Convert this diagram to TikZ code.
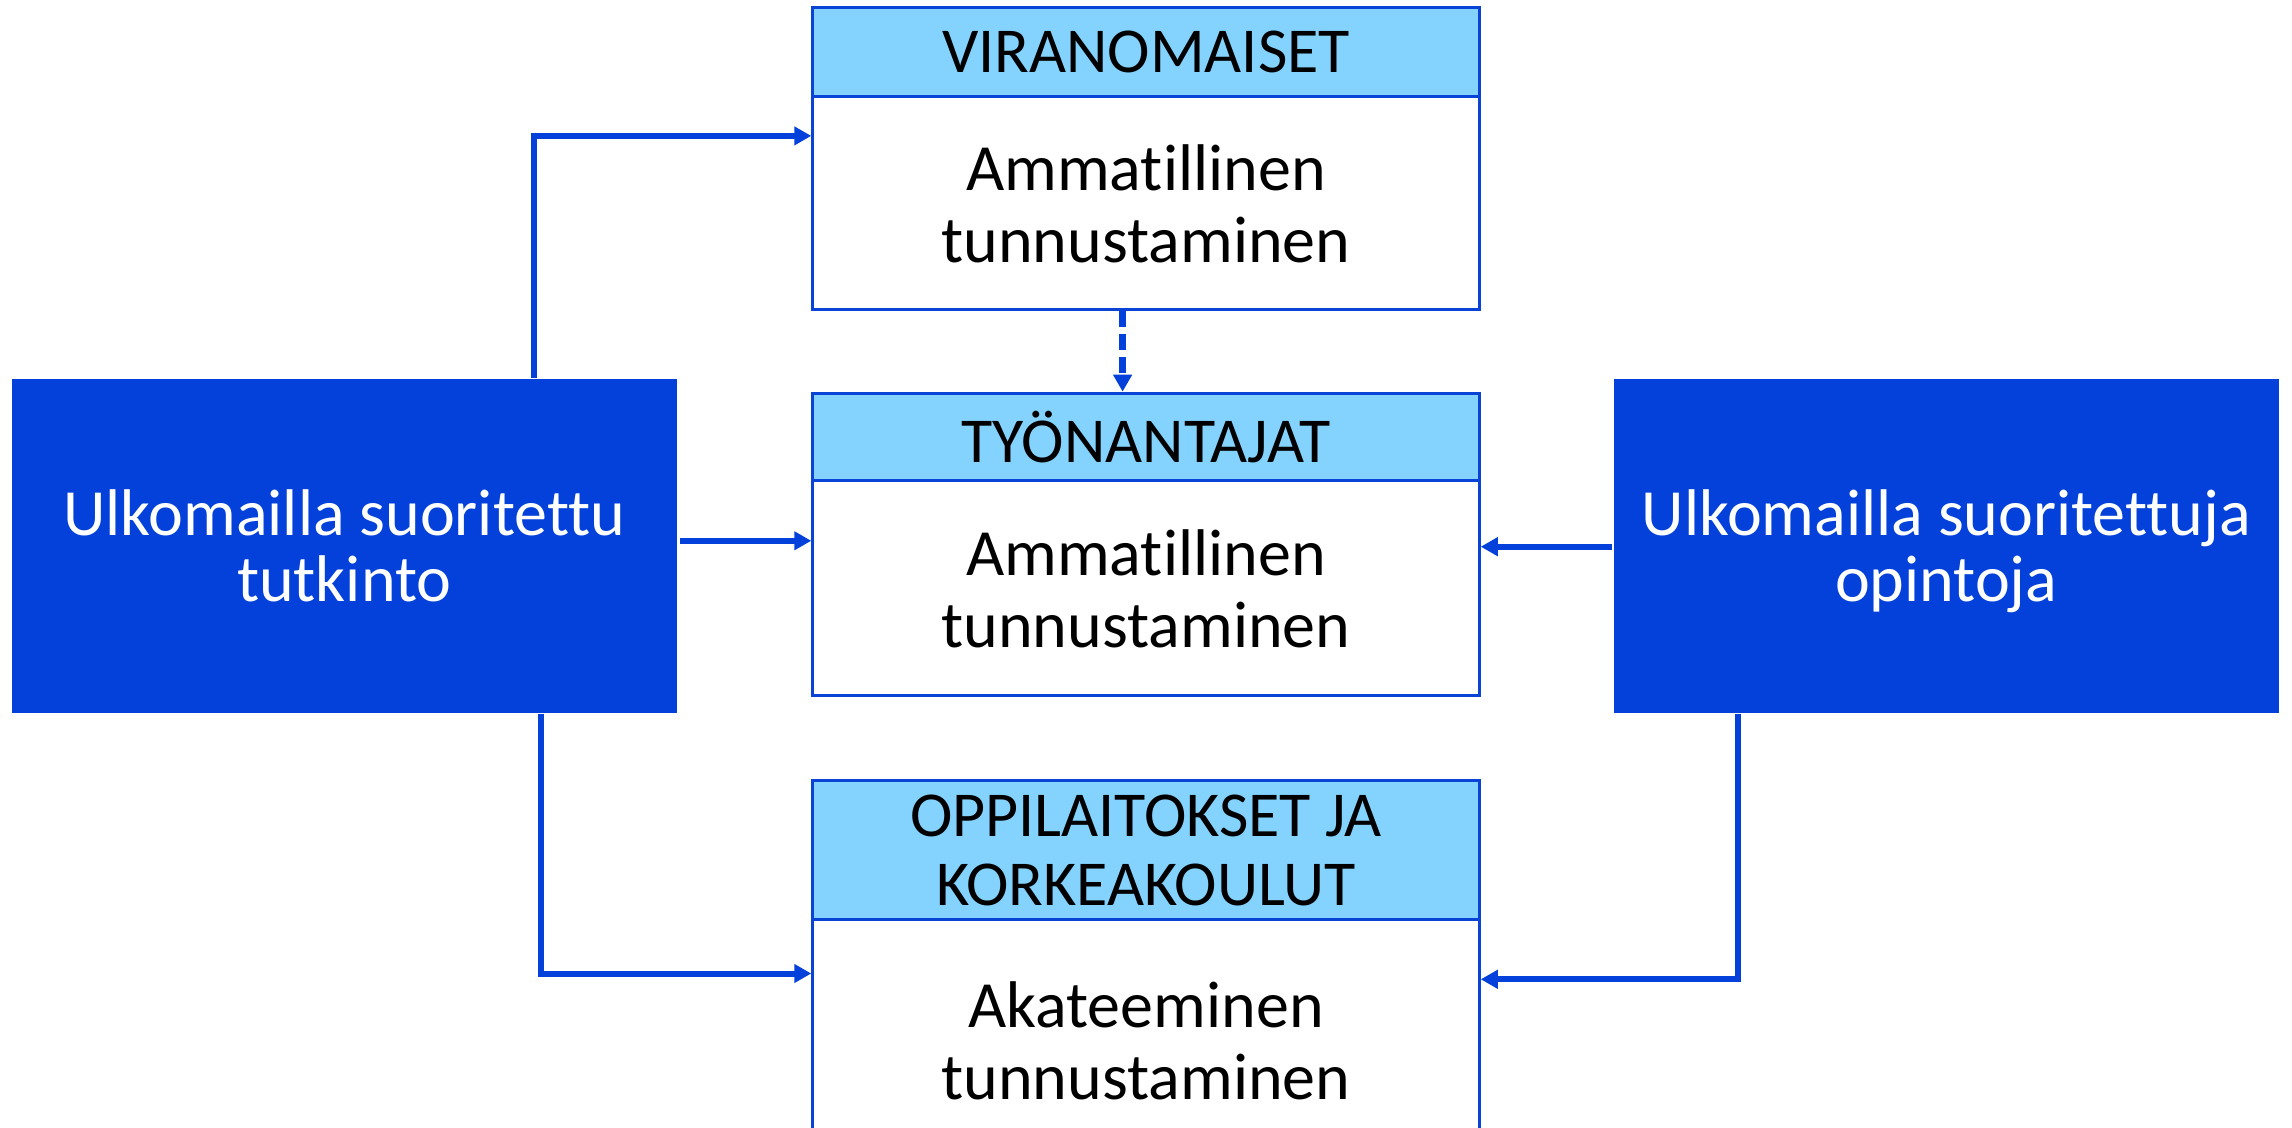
\documentclass[tikz,border=0pt]{standalone}
\usepackage{fontspec}
\setmainfont{Carlito}[Ligatures={NoCommon}]
\usetikzlibrary{arrows.meta}
\definecolor{dblue}{HTML}{0341DA}
\definecolor{lblue}{HTML}{83D3FE}
\definecolor{lineblue}{HTML}{0A44D6}
\begin{document}
\begin{tikzpicture}[x=0.5pt,y=-0.5pt,
  hdr/.style={draw=lineblue, line width=1.5pt, fill=lblue, minimum width=333.25pt, inner sep=0pt, align=center, font=\fontsize{32}{34.5}\selectfont, text depth=0pt},
  bdy/.style={draw=lineblue, line width=1.5pt, fill=white, minimum width=333.25pt, inner sep=0pt, align=center, font=\fontsize{33}{36}\selectfont, text depth=0pt},
  src/.style={fill=dblue, text=white, minimum width=332.55pt, minimum height=167.35pt, inner sep=0pt, align=center, font=\fontsize{33}{33}\selectfont, text depth=0pt},
  conn/.style={draw=dblue, line width=3pt, -{Triangle[length=8.5pt,width=9pt]}},
]
\useasboundingbox (0,0) rectangle (2292,1128);
\fill[white] (0,0) rectangle (2292,1128);

% middle column
\node[hdr, minimum height=44.6pt] (h1) at (1146,51.9) {VIRANOMAISET};
\node[bdy, minimum height=106.7pt] (b1) at (1146,203.2) {Ammatillinen\\tunnustaminen};
\node[hdr, minimum height=43.85pt] (h2) at (1146,437.05) {TYÖNANTAJAT};
\node[bdy, minimum height=107.45pt] (b2) at (1146,588.35) {Ammatillinen\\tunnustaminen};
\node[hdr, minimum height=69.4pt] (h3) at (1146,850) {OPPILAITOKSET JA\\KORKEAKOULUT};
\node[bdy, minimum height=120.8pt] (b3) at (1146,1040.2) {Akateeminen\\tunnustaminen};

% sources
\node[src] (L) at (344.25,545.95) {Ulkomailla suoritettu\\tutkinto};
\node[src] (R) at (1946.25,545.95) {Ulkomailla suoritettuja\\opintoja};

% helper coordinates
\coordinate (c1) at (533.5,135.9);
\coordinate (c2) at (680,540.8);
\coordinate (c3) at (540.8,973.5);
\coordinate (c4) at (1612,546.7);
\coordinate (c5) at (1738,979.3);
\coordinate (c6) at (1122.6,0);

\draw[conn] (c1 |- L.north) |- (b1.west |- c1);
\draw[conn] (c2) -- (b2.west |- c2);
\draw[conn] (c3 |- L.south) |- (b3.west |- c3);
\draw[conn] (c4) -- (b2.east |- c4);
\draw[conn] (c5 |- R.south) |- (b3.east |- c5);
\draw[conn, line width=3.3pt, dash pattern=on 8pt off 3.5pt] (c6 |- b1.south) -- (c6 |- h2.north);
\end{tikzpicture}
\end{document}
